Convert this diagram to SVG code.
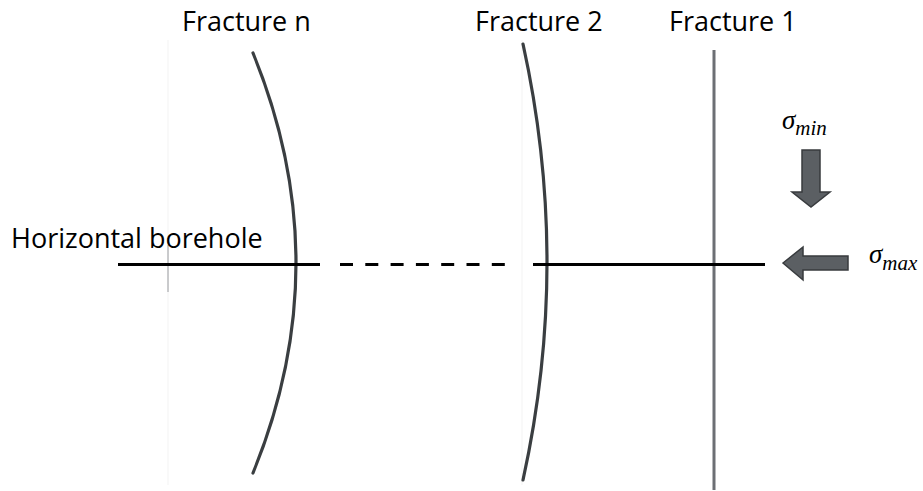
<svg xmlns="http://www.w3.org/2000/svg" width="923" height="491" viewBox="0 0 923 491">
<style>
.lbl{font-family:"Open Sans","DejaVu Sans",sans-serif;font-size:27px;fill:#000}
.sym{font-family:"Liberation Serif","Times New Roman",serif;font-style:italic;fill:#000}
.frac{fill:none;stroke:#3a3e41;stroke-width:3.2;stroke-linecap:round}
.bore{stroke:#000;stroke-width:3;fill:none}
.arrow{fill:#5b5f63;stroke:#383b3e;stroke-width:1.5;stroke-linejoin:miter}
</style>
<rect width="923" height="491" fill="#fff"/>
<g id="artifacts">
<line x1="168" y1="40" x2="168" y2="485" stroke="#f3f3f3" stroke-width="1"/>
<line x1="522" y1="40" x2="522" y2="485" stroke="#f3f3f3" stroke-width="1"/>
<line x1="168" y1="245" x2="168" y2="292" stroke="#9a9ca0" stroke-width="1"/>
</g>
<g id="labels">
<text class="lbl" x="182" y="31">Fracture n</text>
<text class="lbl" x="475" y="31">Fracture 2</text>
<text class="lbl" x="669" y="31">Fracture 1</text>
<text class="lbl" x="11" y="248">Horizontal borehole</text>
</g>
<g id="fracture-n"><path class="frac" d="M253,53 Q339,263 253,473"/></g>
<g id="fracture-2"><path class="frac" d="M523,44 Q571,262 523,480"/></g>
<g id="fracture-1"><line x1="714" y1="50" x2="714" y2="490" stroke="#6c6f74" stroke-width="3"/></g>
<g id="connectors">
<line class="bore" x1="118" y1="264.5" x2="320" y2="264.5"/>
<line class="bore" x1="340" y1="264.5" x2="508" y2="264.5" stroke-dasharray="13,12.3"/>
<line class="bore" x1="533" y1="264.5" x2="765" y2="264.5"/>
</g>
<g id="sigma-min">
<text class="sym" x="782" y="129" font-size="27">σ<tspan font-size="21" dy="6">min</tspan></text>
<polygon class="arrow" points="802,150 820,150 820,192 830,192 811,207 792,192 802,192"/>
</g>
<g id="sigma-max">
<polygon class="arrow" points="783,263 803,247 803,256 848,256 848,270 803,270 803,280"/>
<text class="sym" x="869" y="263" font-size="27">σ<tspan font-size="21" dy="7">max</tspan></text>
</g>
</svg>
